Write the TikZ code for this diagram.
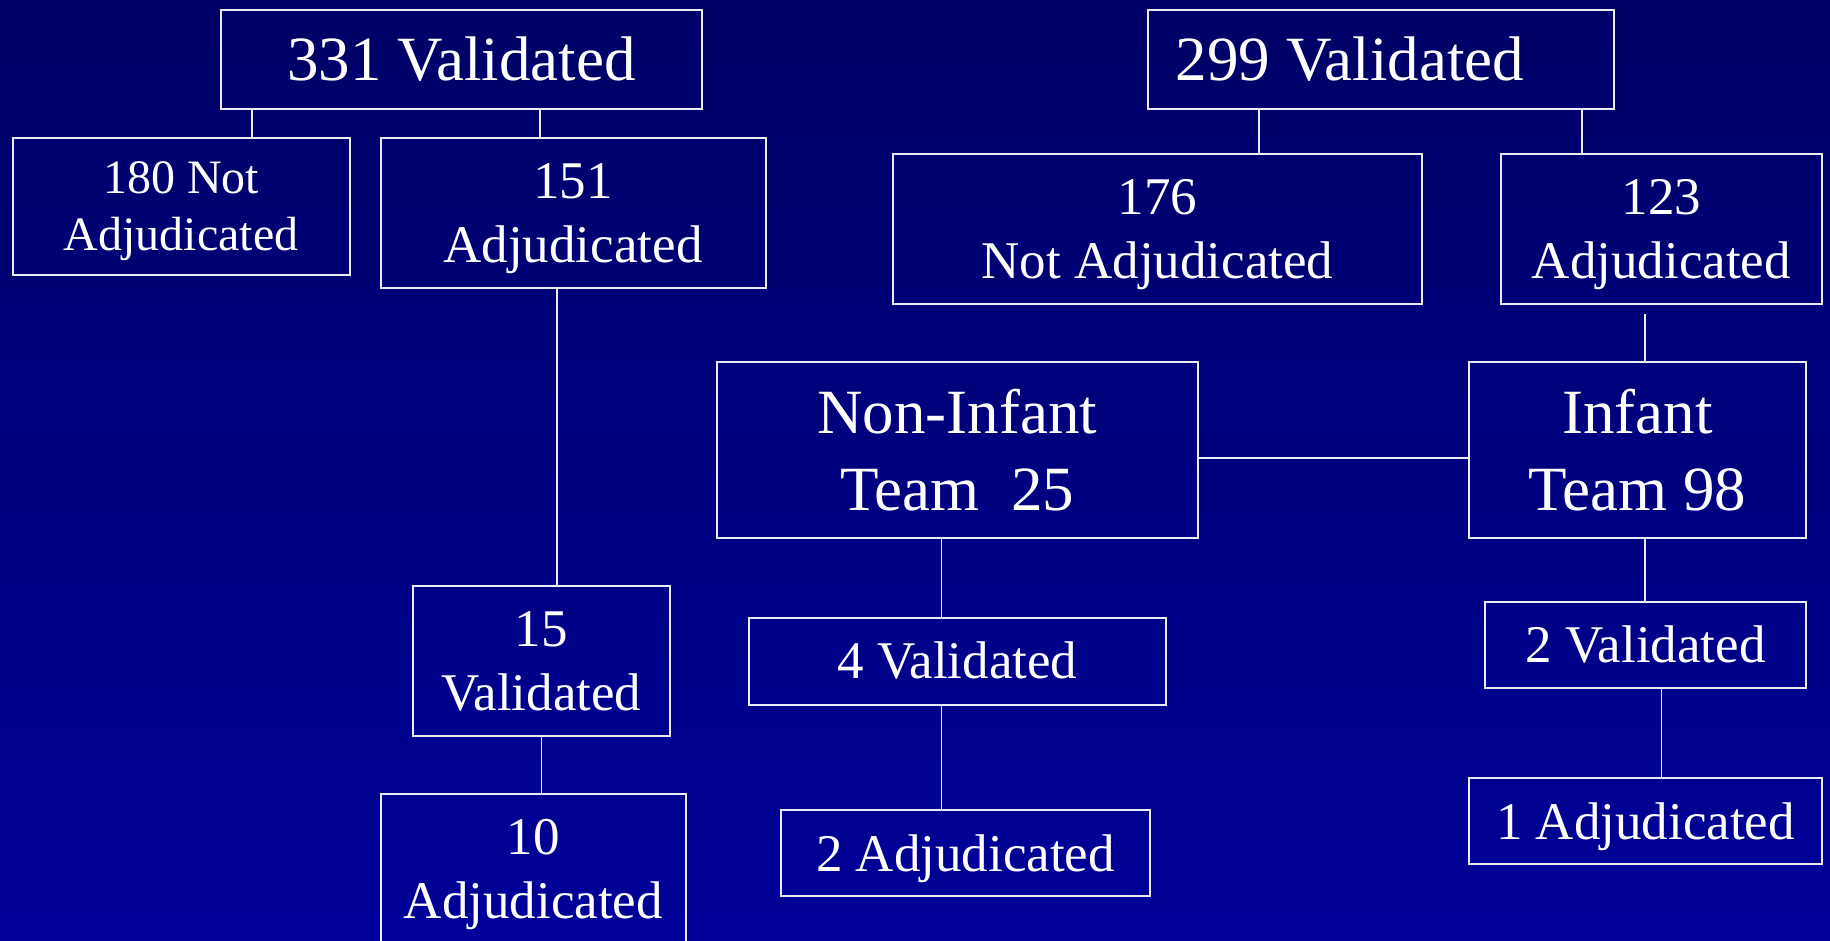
\documentclass[tikz,border=0pt]{standalone}
\usepackage{fontspec}
\setmainfont{Liberation Serif}
\definecolor{slidetop}{RGB}{0, 0, 102}
\definecolor{slidemid}{RGB}{0, 0, 140}
\definecolor{slidebot}{RGB}{0, 0, 153}
\definecolor{boxline}{RGB}{235, 235, 245}
\usetikzlibrary{calc}
\newcommand{\nodp}[1]{\raisebox{0pt}[\height][0pt]{#1}}

\begin{document}
\begin{tikzpicture}[x=1pt, y=-1pt,
  cbox/.style={draw=boxline, line width=2pt, align=center, text=white, inner sep=0pt},
  bigtxt/.style={font=\fontsize{63}{77}\selectfont},
  midtxt/.style={font=\fontsize{53}{64}\selectfont},
  smalltxt/.style={font=\fontsize{48}{57}\selectfont},
  link/.style={draw=boxline, line width=1.5pt}
]
  \useasboundingbox (0,0) rectangle (1830,940);
  \clip (0,0) rectangle (1830,940);
  \fill[top color=slidetop, middle color=slidemid, bottom color=slidebot] (0,0) rectangle (1830,940);

  \node[cbox, bigtxt, minimum width=481pt, minimum height=99pt] (v331) at (461.5, 59.5) {331 Validated};
  \node[cbox, smalltxt, minimum width=337pt, minimum height=137pt] (notadj180) at (181, 206.5) {180 Not\\\nodp{Adjudicated}};
  \node[cbox, midtxt, minimum width=385pt, minimum height=150pt] (adj151) at (573, 213) {151\\\nodp{Adjudicated}};
  \node[cbox, midtxt, minimum width=257pt, minimum height=150pt] (val15) at (541.3, 661) {15\\Validated};
  \node[cbox, midtxt, minimum width=305pt, minimum height=150pt] (adj10) at (533.3, 869) {10\\\nodp{Adjudicated}};

  \node[cbox, bigtxt, minimum width=466pt, minimum height=99pt] (v299) at (1381, 59.5) {299 Validated\hspace*{62pt}};
  \node[cbox, midtxt, minimum width=529pt, minimum height=150pt] (notadj176) at (1157.4, 229) {176\\\nodp{Not Adjudicated}};
  \node[cbox, midtxt, minimum width=321pt, minimum height=150pt] (adj123) at (1661.4, 229) {123\\\nodp{Adjudicated}};
  \node[cbox, bigtxt, minimum width=481pt, minimum height=176pt] (noninfant) at (957.3, 450) {Non-Infant\\Team~~25};
  \node[cbox, bigtxt, minimum width=337pt, minimum height=176pt] (infant) at (1637.5, 450) {Infant\\Team 98};
  \node[cbox, midtxt, minimum width=417pt, minimum height=87pt] (val4) at (957.4, 661) {4 Validated};
  \node[cbox, midtxt, minimum width=369pt, minimum height=86pt] (adj2) at (965.4, 853) {\nodp{2 Adjudicated}};
  \node[cbox, midtxt, minimum width=321pt, minimum height=86pt] (val2) at (1645.5, 645) {2 Validated};
  \node[cbox, midtxt, minimum width=353pt, minimum height=86pt] (adj1) at (1645.4, 821) {\nodp{1 Adjudicated}};

  \draw[link] ([xshift=32pt]v331.south west) -- ([xshift=32pt]v331.south west |- notadj180.north);
  \draw[link] ([xshift=320pt]v331.south west) -- ([xshift=320pt]v331.south west |- adj151.north);
  \draw[link] ([xshift=-16pt]adj151.south) -- ([xshift=-16pt]adj151.south |- val15.north);
  \draw[link] (val15.south) -- (val15.south |- adj10.north);

  \draw[link] ([xshift=112pt]v299.south west) -- ([xshift=112pt]v299.south west |- notadj176.north);
  \draw[link] ([xshift=-33pt]v299.south east) -- ([xshift=-33pt]v299.south east |- adj123.north);
  \draw[link] ([xshift=7.5pt]infant.north |- adj123.south) ++(0,9) -- ([xshift=7.5pt]infant.north);
  \draw[link] ([yshift=-8pt]noninfant.east) -- ([yshift=-8pt]noninfant.east -| infant.west);
  \draw[link] ([xshift=-16pt]noninfant.south) -- ([xshift=-16pt]noninfant.south |- val4.north);
  \draw[link] ([xshift=-16pt]val4.south) -- ([xshift=-16pt]val4.south |- adj2.north);
  \draw[link] ([xshift=7.5pt]infant.south) -- ([xshift=7.5pt]infant.south |- val2.north);
  \draw[link] ([xshift=16pt]val2.south) -- ([xshift=16pt]val2.south |- adj1.north);
\end{tikzpicture}
\end{document}
